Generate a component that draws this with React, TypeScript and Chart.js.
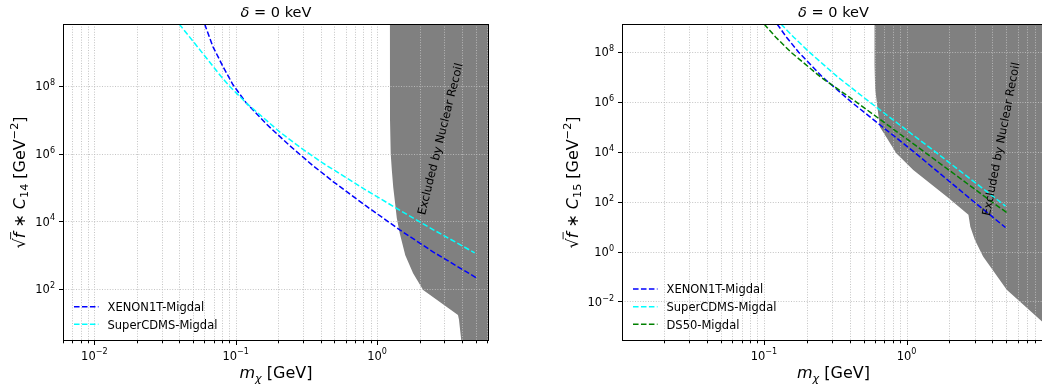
import React, { useEffect, useRef } from "react";
import { Chart, registerables } from "chart.js";

Chart.register(...registerables);

const FONT = "'DejaVu Sans', 'Noto Sans', sans-serif";

// ---------------- Left panel (C14) ----------------
const leftXenonMass = [0.0603, 0.069, 0.0813, 0.0957, 0.119, 0.1648, 0.241, 0.352, 0.4887, 0.841, 1.449, 2.489, 5.047];
const leftXenonLimit = [6.9e9, 1.48e9, 3.8e8, 1.1e8, 3.16e7, 7.6e6, 1.74e6, 4.47e5, 1.51e5, 2.82e4, 5.6e3, 1.26e3, 214];
const leftCdmsMass = [0.0398, 0.0501, 0.0631, 0.0794, 0.0908, 0.119, 0.2046, 0.2838, 0.415, 0.841, 1.371, 2.489, 4.909];
const leftCdmsLimit = [6.9e9, 2.09e9, 6.24e8, 1.86e8, 9.8e7, 3.16e7, 4.47e6, 1.58e6, 5.25e5, 8.3e4, 2.45e4, 5.75e3, 1175];
const leftExclMass = [1.23, 1.236, 1.25, 1.274, 1.303, 1.334, 1.38, 1.445, 1.585, 1.8, 2.12, 3.74, 3.8, 3.95, 4.07, 100];
const leftExclLimit = [1e10, 1e7, 1e6, 3.16e5, 1e5, 4.4e4, 1.26e4, 4.6e3, 1e3, 295, 93, 17, 12.6, 2.9, 1, 1];
const leftXMajor = [0.01, 0.1, 1];
const leftYMajor = [1e2, 1e4, 1e6, 1e8];

// ---------------- Right panel (C15) ----------------
const rightXenonMass = [0.1236, 0.1439, 0.175, 0.2576, 0.41, 0.679, 1.127, 2.965, 4.94];
const rightXenonLimit = [1.35e9, 3.98e8, 1e8, 1e7, 1e6, 1e5, 1e4, 100, 9.3];
const rightCdmsMass = [0.1315, 0.1618, 0.208, 0.3296, 0.551, 0.9354, 1.592, 4.52, 4.94];
const rightCdmsLimit = [1.35e9, 3.98e8, 1e8, 1e7, 1e6, 1e5, 1e4, 100, 67];
const rightDs50Mass = [0.1002, 0.121, 0.1545, 0.25, 0.4446, 0.769, 1.334, 3.954, 5.09];
const rightDs50Limit = [1.35e9, 3.98e8, 1e8, 1e7, 1e6, 1e5, 1e4, 100, 35.5];
const rightExclMass = [0.594, 0.594, 0.603, 0.624, 0.65, 0.702, 0.847, 1.114, 1.919, 2.716, 2.8, 3.01, 3.44, 5.04, 8.91, 30];
const rightExclLimit = [2e9, 3.16e7, 3.16e6, 6.3e5, 1e5, 5e4, 8.9e3, 1.9e3, 158, 30, 10, 3, 0.64, 0.0295, 1.58e-3, 1e-6];
const rightXMajor = [0.1, 1];
const rightYMajor = [1e-2, 1, 1e2, 1e4, 1e6, 1e8];

const seriesNames = ["XENON1T-Migdal", "SuperCDMS-Migdal", "DS50-Migdal"];
const seriesColors = ["#0000ff", "#00ffff", "#008000"];
const exclusionText = "Excluded by Nuclear Recoil";

type Seg = { t: string; it?: boolean; s?: number; dy?: number; bar?: boolean };

const titleSegs: Seg[] = [{ t: "δ", it: true }, { t: " = 0 keV" }];
const xLabelSegs: Seg[] = [{ t: "m", it: true }, { t: "χ", it: true, s: 0.7, dy: 0.22 }, { t: " [GeV]" }];
const yLabelSegs = (sub: string): Seg[] => [
  { t: "√" },
  { t: "f", it: true, bar: true },
  { t: " ∗ " },
  { t: "C", it: true },
  { t: sub, s: 0.7, dy: 0.2 },
  { t: " [GeV" },
  { t: "−2", s: 0.7, dy: -0.42 },
  { t: "]" },
];

function segFont(size: number, s: Seg) {
  return `${s.it ? "italic " : ""}${size * (s.s ?? 1)}px ${FONT}`;
}
function richWidth(ctx: CanvasRenderingContext2D, segs: Seg[], size: number) {
  let w = 0;
  for (const s of segs) {
    ctx.font = segFont(size, s);
    w += ctx.measureText(s.t).width;
  }
  return w;
}
function drawRich(
  ctx: CanvasRenderingContext2D,
  segs: Seg[],
  size: number,
  x: number,
  y: number,
  align: "left" | "center" | "right" = "center",
  rot = 0
) {
  ctx.save();
  ctx.translate(x, y);
  if (rot) ctx.rotate(rot);
  ctx.textBaseline = "alphabetic";
  ctx.textAlign = "left";
  ctx.fillStyle = "#000";
  const w = richWidth(ctx, segs, size);
  let cx = align === "center" ? -w / 2 : align === "right" ? -w : 0;
  for (const s of segs) {
    ctx.font = segFont(size, s);
    const sw = ctx.measureText(s.t).width;
    ctx.fillText(s.t, cx, (s.dy ?? 0) * size);
    if (s.bar) {
      ctx.strokeStyle = "#000";
      ctx.lineWidth = size * 0.055;
      ctx.beginPath();
      ctx.moveTo(cx - 0.06 * size, -0.9 * size);
      ctx.lineTo(cx + sw + 0.04 * size, -0.9 * size);
      ctx.stroke();
    }
    cx += sw;
  }
  ctx.restore();
}

function expText(v: number) {
  const e = Math.round(Math.log10(v));
  return e < 0 ? "−" + String(-e) : String(e);
}
function tickSegs(v: number): Seg[] {
  return [{ t: "10" }, { t: expText(v), s: 0.7, dy: -0.45 }];
}
function allLogTicks(min: number, max: number) {
  const out: { v: number; major: boolean }[] = [];
  for (let e = Math.floor(Math.log10(min)); e <= Math.ceil(Math.log10(max)); e++) {
    for (let m = 1; m < 10; m++) {
      const v = m * Math.pow(10, e);
      if (v >= min * 0.9999 && v <= max * 1.0001) out.push({ v, major: m === 1 });
    }
  }
  return out;
}

type Line = { label: string; color: string; xs: number[]; ys: number[]; order: number };
type Spec = {
  canvasW: number;
  canvasH: number;
  left: number;
  padRight: number;
  yAxisW: number;
  xMin: number;
  xMax: number;
  yMin: number;
  yMax: number;
  lines: Line[];
  exclXs: number[];
  exclYs: number[];
  xMajor: number[];
  yMajor: number[];
  ySub: string;
  yLabelOffset: number;
  noteX: number;
  noteY: number;
  noteAngle: number;
};

const TICK_SIZE = 11.5;

function makePlugin(spec: Spec) {
  const xTicks = allLogTicks(spec.xMin, spec.xMax);
  return {
    id: "mplLook",
    afterDatasetDraw(chart: any, args: any) {
      const ds = chart.data.datasets[args.index];
      if (!ds || !ds.isRegion) return;
      const { ctx, chartArea: a } = chart;
      const xs = chart.scales.x;
      const ys = chart.scales.y;
      ctx.save();
      ctx.beginPath();
      ctx.rect(a.left, a.top, a.right - a.left, a.bottom - a.top);
      ctx.clip();
      ctx.strokeStyle = "#bdbdbd";
      ctx.lineWidth = 0.9;
      ctx.setLineDash([1, 1.6]);
      for (const t of xTicks) {
        const px = Math.round(xs.getPixelForValue(t.v)) + 0.5;
        ctx.beginPath();
        ctx.moveTo(px, a.top);
        ctx.lineTo(px, a.bottom);
        ctx.stroke();
      }
      for (const v of spec.yMajor) {
        const py = Math.round(ys.getPixelForValue(v)) + 0.5;
        ctx.beginPath();
        ctx.moveTo(a.left, py);
        ctx.lineTo(a.right, py);
        ctx.stroke();
      }
      ctx.restore();
    },
    afterDatasetsDraw(chart: any) {
      const { ctx } = chart;
      const px = chart.scales.x.getPixelForValue(spec.noteX);
      const py = chart.scales.y.getPixelForValue(spec.noteY);
      ctx.save();
      ctx.translate(px, py);
      ctx.rotate((-spec.noteAngle * Math.PI) / 180);
      ctx.font = `${TICK_SIZE}px ${FONT}`;
      ctx.fillStyle = "#000";
      ctx.textAlign = "center";
      ctx.textBaseline = "alphabetic";
      ctx.fillText(exclusionText, 0, 0.36 * TICK_SIZE);
      ctx.restore();
    },
    afterDraw(chart: any) {
      const { ctx, chartArea: a } = chart;
      const xs = chart.scales.x;
      const ys = chart.scales.y;
      ctx.save();
      ctx.strokeStyle = "#000";
      ctx.lineWidth = 1;
      ctx.setLineDash([]);
      ctx.strokeRect(a.left + 0.5, a.top + 0.5, a.right - a.left - 1, a.bottom - a.top - 1);
      for (const t of xTicks) {
        const px = Math.round(xs.getPixelForValue(t.v)) + 0.5;
        ctx.beginPath();
        ctx.moveTo(px, a.bottom);
        ctx.lineTo(px, a.bottom + (t.major ? 4 : 2.3));
        ctx.stroke();
      }
      for (const v of spec.yMajor) {
        const py = Math.round(ys.getPixelForValue(v)) + 0.5;
        ctx.beginPath();
        ctx.moveTo(a.left, py);
        ctx.lineTo(a.left - 4, py);
        ctx.stroke();
      }
      ctx.restore();
      for (const v of spec.xMajor) {
        drawRich(ctx, tickSegs(v), TICK_SIZE, xs.getPixelForValue(v), a.bottom + 18.5, "center");
      }
      for (const v of spec.yMajor) {
        drawRich(ctx, tickSegs(v), TICK_SIZE, a.left - 8, ys.getPixelForValue(v) + 4.2, "right");
      }
      const cx = (a.left + a.right) / 2;
      drawRich(ctx, titleSegs, 14.5, cx, a.top - 7.3, "center");
      drawRich(ctx, xLabelSegs, 16, cx, a.bottom + 37, "center");
      drawRich(ctx, yLabelSegs(spec.ySub), 16, a.left - spec.yLabelOffset, (a.top + a.bottom) / 2, "center", -Math.PI / 2);
      const n = spec.lines.length;
      spec.lines.forEach((l, i) => {
        const y = a.bottom - 16.7 - (n - 1 - i) * 17.6;
        ctx.save();
        ctx.strokeStyle = l.color;
        ctx.lineWidth = 1.5;
        ctx.setLineDash([5.55, 2.4]);
        ctx.beginPath();
        ctx.moveTo(a.left + 11, y);
        ctx.lineTo(a.left + 35.5, y);
        ctx.stroke();
        ctx.restore();
        ctx.save();
        ctx.font = `${TICK_SIZE}px ${FONT}`;
        ctx.fillStyle = "#000";
        ctx.textBaseline = "alphabetic";
        ctx.textAlign = "left";
        ctx.fillText(l.label, a.left + 44.5, y + 4.2);
        ctx.restore();
      });
    },
  };
}

function buildConfig(spec: Spec): any {
  const lineSets = spec.lines.map((l) => ({
    label: l.label,
    data: l.xs.map((x, i) => ({ x, y: l.ys[i] })),
    borderColor: l.color,
    backgroundColor: l.color,
    borderWidth: 1.5,
    borderDash: [5.55, 2.4],
    borderCapStyle: "butt",
    pointRadius: 0,
    fill: false,
    tension: 0,
    order: l.order,
    clip: 0,
  }));
  const region = {
    label: "excluded",
    isRegion: true,
    data: spec.exclXs.map((x, i) => ({ x, y: spec.exclYs[i] })),
    borderColor: "rgba(0,0,0,0)",
    backgroundColor: "#808080",
    borderWidth: 1,
    pointRadius: 0,
    fill: "end",
    tension: 0,
    order: 10,
    clip: 0,
  };
  return {
    type: "line",
    data: { datasets: [...lineSets, region] },
    options: {
      animation: false,
      responsive: false,
      devicePixelRatio: 1,
      events: [],
      layout: { padding: { left: spec.left, top: 24, right: spec.padRight, bottom: 0 } },
      plugins: { legend: { display: false }, tooltip: { enabled: false }, title: { display: false } },
      scales: {
        x: {
          type: "logarithmic",
          min: spec.xMin,
          max: spec.xMax,
          grid: { display: false },
          border: { display: false },
          ticks: { display: false },
          afterFit: (s: any) => {
            s.height = 48;
          },
        },
        y: {
          type: "logarithmic",
          min: spec.yMin,
          max: spec.yMax,
          grid: { display: false },
          border: { display: false },
          ticks: { display: false },
          afterFit: (s: any) => {
            s.width = spec.yAxisW;
          },
        },
      },
    },
    plugins: [makePlugin(spec)],
  };
}

const leftSpec: Spec = {
  canvasW: 520,
  canvasH: 389,
  left: 0,
  padRight: 31,
  yAxisW: 63,
  xMin: 0.006,
  xMax: 6.2,
  yMin: 2.9,
  yMax: 6.9e9,
  lines: [
    { label: seriesNames[0], color: seriesColors[0], xs: leftXenonMass, ys: leftXenonLimit, order: 2 },
    { label: seriesNames[1], color: seriesColors[1], xs: leftCdmsMass, ys: leftCdmsLimit, order: 1 },
  ],
  exclXs: leftExclMass,
  exclYs: leftExclLimit,
  xMajor: leftXMajor,
  yMajor: leftYMajor,
  ySub: "14",
  yLabelOffset: 38,
  noteX: 2.78,
  noteY: 2.75e6,
  noteAngle: 76,
};

const rightSpec: Spec = {
  canvasW: 540,
  canvasH: 389,
  left: 0,
  padRight: 15,
  yAxisW: 102,
  xMin: 0.0101,
  xMax: 9.35,
  yMin: 2.6e-4,
  yMax: 1.35e9,
  lines: [
    { label: seriesNames[0], color: seriesColors[0], xs: rightXenonMass, ys: rightXenonLimit, order: 3 },
    { label: seriesNames[1], color: seriesColors[1], xs: rightCdmsMass, ys: rightCdmsLimit, order: 2 },
    { label: seriesNames[2], color: seriesColors[2], xs: rightDs50Mass, ys: rightDs50Limit, order: 1 },
  ],
  exclXs: rightExclMass,
  exclYs: rightExclLimit,
  xMajor: rightXMajor,
  yMajor: rightYMajor,
  ySub: "15",
  yLabelOffset: 44.5,
  noteX: 4.57,
  noteY: 3.3e4,
  noteAngle: 79,
};

function Panel({ spec, x }: { spec: Spec; x: number }) {
  const ref = useRef<HTMLCanvasElement>(null);
  useEffect(() => {
    if (!ref.current) return;
    const chart = new Chart(ref.current, buildConfig(spec));
    return () => chart.destroy();
  }, [spec]);
  return (
    <canvas
      ref={ref}
      width={spec.canvasW}
      height={spec.canvasH}
      style={{ position: "absolute", left: x, top: 0, width: spec.canvasW, height: spec.canvasH }}
    />
  );
}

export default function App() {
  useEffect(() => {
    document.body.style.margin = "0";
    document.body.style.overflow = "hidden";
    document.body.style.background = "#fff";
  }, []);
  return (
    <div style={{ position: "relative", width: 1042, height: 389, overflow: "hidden", background: "#fff" }}>
      <Panel spec={leftSpec} x={0} />
      <Panel spec={rightSpec} x={520} />
    </div>
  );
}
